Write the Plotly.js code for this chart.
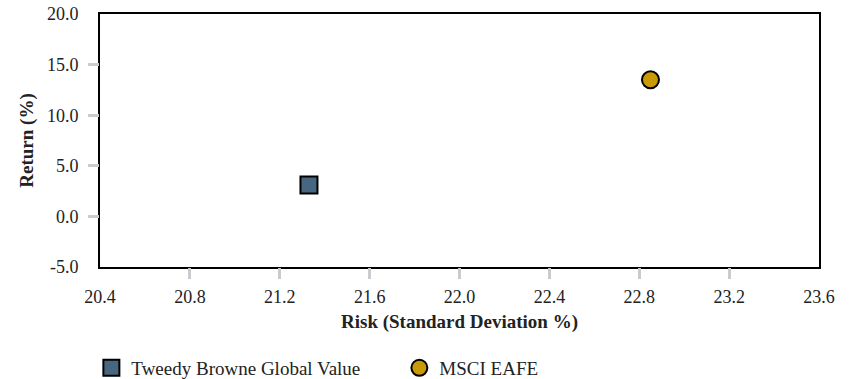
<!DOCTYPE html>
<html>
<head>
<meta charset="utf-8">
<script src="https://cdn.plot.ly/plotly-3.0.1.min.js"></script>
<style>html,body{margin:0;padding:0;background:#fff;}#chart{width:859px;height:379px;}</style>
</head>
<body>
<div id="chart"></div>
<script>
var seriesNames = ["Tweedy Browne Global Value", "MSCI EAFE"];
var riskValues = [21.33, 22.85];
var returnValues = [3.1, 13.5];
var markerSymbols = ["square", "circle"];
var markerColors = ["#46677f", "#c99a06"];
var xTickVals = [20.4, 20.8, 21.2, 21.6, 22.0, 22.4, 22.8, 23.2, 23.6];
var xTickText = ["20.4", "20.8", "21.2", "21.6", "22.0", "22.4", "22.8", "23.2", "23.6"];
var yTickVals = [-5, 0, 5, 10, 15, 20];
var yTickText = ["-5.0", "0.0", "5.0", "10.0", "15.0", "20.0"];

var font = "Liberation Serif";
var traces = seriesNames.map(function (n, i) {
  return {
    type: "scatter", mode: "markers", name: n,
    x: [riskValues[i]], y: [returnValues[i]],
    marker: {symbol: markerSymbols[i], size: 17, color: markerColors[i], line: {color: "#000", width: 2}}
  };
});
// empty helper trace so the tick-only overlay axes are drawn
traces.push({type: "scatter", mode: "markers", x: [], y: [], xaxis: "x2", yaxis: "y2", showlegend: false, hoverinfo: "skip"});

var tickColor = "#c8ccd0";
var layout = {
  width: 859, height: 379,
  margin: {l: 100, r: 40, t: 14, b: 112, autoexpand: false},
  paper_bgcolor: "#fff", plot_bgcolor: "#fff",
  font: {family: font, size: 18, color: "#222"},
  showlegend: true,
  legend: {orientation: "h", x: -0.012, xanchor: "left", y: -0.399, yanchor: "middle",
           entrywidth: 263, entrywidthmode: "pixels",
           font: {family: font, size: 19, color: "#222"}, tracegroupgap: 0},
  xaxis: {
    range: [20.4, 23.6], tickmode: "array", tickvals: xTickVals, ticktext: xTickText,
    ticks: "", ticklabelstandoff: 12, showgrid: false, zeroline: false, showline: true, mirror: true, linecolor: "#000", linewidth: 2,
    tickfont: {family: font, size: 18, color: "#222"},
    title: {text: "<b>Risk (Standard Deviation %)</b>", font: {family: font, size: 19, color: "#222"}, standoff: 9}
  },
  yaxis: {
    range: [-5, 20], tickmode: "array", tickvals: yTickVals, ticktext: yTickText,
    ticks: "", ticklabelstandoff: 16, showgrid: false, zeroline: false, showline: true, mirror: true, linecolor: "#000", linewidth: 2,
    tickfont: {family: font, size: 18, color: "#222"},
    title: {text: "<b>Return (%)</b>", font: {family: font, size: 19, color: "#222"}, standoff: 8}
  },
  xaxis2: {
    overlaying: "x", anchor: "y", side: "bottom", range: [20.4, 23.6],
    tickmode: "array", tickvals: xTickVals.slice(1, -1), showticklabels: false,
    ticks: "outside", ticklen: 11, tickwidth: 3, tickcolor: tickColor,
    showgrid: false, zeroline: false, showline: false
  },
  yaxis2: {
    overlaying: "y", anchor: "x", side: "left", range: [-5, 20],
    tickmode: "array", tickvals: yTickVals.slice(1, -1), showticklabels: false,
    ticks: "outside", ticklen: 11, tickwidth: 3, tickcolor: tickColor,
    showgrid: false, zeroline: false, showline: false
  }
};
Plotly.newPlot("chart", traces, layout, {displayModeBar: false, staticPlot: true});
</script>
</body>
</html>
